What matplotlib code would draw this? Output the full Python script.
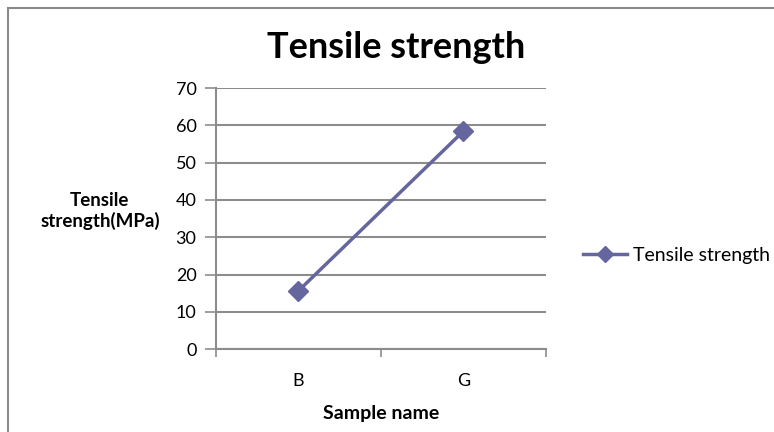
import matplotlib
matplotlib.use("Agg")
import matplotlib.pyplot as plt
from matplotlib.patches import Rectangle

plt.rcParams['font.family'] = ['Lato', 'DejaVu Sans']

samples = ["B", "G"]
strength = [15.6, 58.4]
y_ticks = [0, 10, 20, 30, 40, 50, 60, 70]

line_color = "#66669f"
grid_color = "#8c8c8c"

fig = plt.figure(figsize=(7.74, 4.32), dpi=100)
ax = fig.add_axes([0.279, 0.192, 0.426, 0.604])

x = range(len(samples))
ax.plot(x, strength, color=line_color, lw=2.5, marker="D", ms=10,
        label="Tensile strength")

ax.set_xlim(-0.5, len(samples) - 0.5)
ax.set_ylim(0, 70)
ax.set_yticks(y_ticks)
ax.set_xticks(list(x))
ax.set_xticklabels(samples)
ax.set_xticks([-0.5, 0.5, 1.5], minor=True)
ax.tick_params(axis="x", which="major", length=0, pad=17, labelsize=13)
ax.tick_params(axis="x", which="minor", length=6, width=1.2, color=grid_color, direction="out")
ax.tick_params(axis="y", length=8, width=1.2, color=grid_color, labelsize=13, pad=6)

ax.yaxis.grid(True, color=grid_color, lw=1.5)
ax.set_axisbelow(True)
for s in ["top", "right"]:
    ax.spines[s].set_visible(False)
for s in ["left", "bottom"]:
    ax.spines[s].set_color(grid_color)
    ax.spines[s].set_linewidth(1.5)

ax.set_xlabel("Sample name", fontweight="bold", fontsize=14, labelpad=12)
ax.set_ylabel("Tensile\nstrength(MPa)", fontweight="bold", fontsize=13.5,
              rotation=0, ha="center", va="center", labelpad=0)
ax.yaxis.set_label_coords(-0.352, 0.53)

fig.text(0.512, 0.889, "Tensile strength", fontsize=26, fontweight="bold",
         ha="center", va="center")

ax.legend(loc="center left", bbox_to_anchor=(1.059, 0.36), frameon=False,
          fontsize=14, handlelength=2.27, handletextpad=0.3, markerscale=0.8)

# chart area border
fig.patches.append(Rectangle((8 / 774, -0.1), 1.2, 1 - 8 / 432 + 0.1,
                             transform=fig.transFigure, fill=False,
                             edgecolor="#8a8a8a", lw=1.5))

fig.savefig("out.png", dpi=100)
